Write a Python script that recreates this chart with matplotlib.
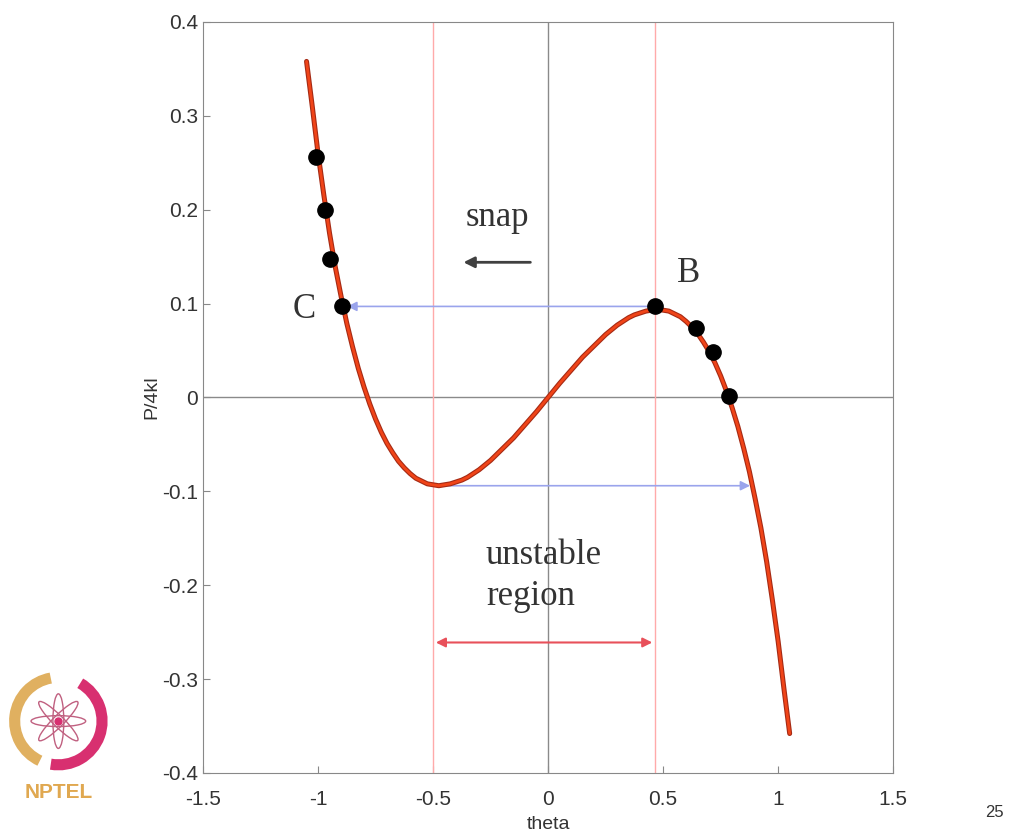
import numpy as np
import matplotlib.pyplot as plt
from matplotlib.patches import Arc, Ellipse

# curve (theta, P/4kl), right half; the left half is its mirror image
theta_r = [0.00, 0.05, 0.10, 0.15, 0.20, 0.25, 0.30, 0.35, 0.375, 0.40, 0.425, 0.45,
           0.475, 0.50, 0.525, 0.55, 0.575, 0.60, 0.625, 0.65, 0.675, 0.70, 0.725,
           0.75, 0.775, 0.80, 0.825, 0.85, 0.875, 0.90, 0.925, 0.95, 0.975, 1.00,
           1.025, 1.05]
load_r = [0.000, 0.015, 0.029, 0.043, 0.055, 0.067, 0.077, 0.085, 0.088, 0.090, 0.092, 0.093,
          0.094, 0.093, 0.092, 0.089, 0.086, 0.081, 0.075, 0.068, 0.059, 0.049, 0.037,
          0.023, 0.007, -0.011, -0.031, -0.054, -0.079, -0.108, -0.139, -0.175, -0.216, -0.260,
          -0.310, -0.358]
theta = [-t for t in theta_r[:0:-1]] + theta_r
load = [-p for p in load_r[:0:-1]] + load_r

# black dots
dot_x = [-1.01, -0.97, -0.95, -0.895, 0.465, 0.643, 0.717, 0.787]
dot_y = [0.256, 0.200, 0.148, 0.097, 0.097, 0.0735, 0.048, 0.002]

# markers of the unstable region and snap paths
region = [-0.5, 0.465]
snap_top = (0.465, -0.885, 0.097)     # from, to, level
snap_bottom = (-0.47, 0.89, -0.094)
region_arrow_y = -0.261

xticks = [-1.5, -1, -0.5, 0, 0.5, 1, 1.5]
yticks = [-0.4, -0.3, -0.2, -0.1, 0, 0.1, 0.2, 0.3, 0.4]

fig = plt.figure(figsize=(10.15, 8.39), dpi=100)
ax = fig.add_axes([0.2, 0.0787, 0.68, 0.8951])

ax.axhline(0, color='#8a8a8a', lw=1)
ax.axvline(0, color='#8a8a8a', lw=1)
for xv in region:
    ax.axvline(xv, color='#ffaaaa', lw=1)

ax.annotate('', xy=(snap_top[1], snap_top[2]), xytext=(snap_top[0], snap_top[2]),
            arrowprops=dict(arrowstyle='-|>', color='#9aa4ec', lw=1.2, mutation_scale=14))
ax.annotate('', xy=(snap_bottom[1], snap_bottom[2]), xytext=(snap_bottom[0], snap_bottom[2]),
            arrowprops=dict(arrowstyle='-|>', color='#9aa4ec', lw=1.2, mutation_scale=14))
ax.annotate('', xy=(region[0], region_arrow_y), xytext=(region[1], region_arrow_y),
            arrowprops=dict(arrowstyle='<|-|>', color='#e8505a', lw=1.5, mutation_scale=14))
ax.annotate('', xy=(-0.38, 0.144), xytext=(-0.065, 0.144),
            arrowprops=dict(arrowstyle='-|>', color='#404040', lw=2, mutation_scale=16))

ax.plot(theta, load, color='#a52a14', lw=3.6, solid_capstyle='round', zorder=3)
ax.plot(theta, load, color='#f04418', lw=2.0, solid_capstyle='round', zorder=4)
ax.plot(dot_x, dot_y, 'o', color='black', ms=11, zorder=5)

serif = dict(family=['Liberation Serif', 'DejaVu Serif'], color='#333333', fontsize=25)
ax.text(-0.22, 0.192, 'snap', ha='center', va='center', **serif)
ax.text(0.61, 0.132, 'B', ha='center', va='center', **serif)
ax.text(-1.06, 0.094, 'C', ha='center', va='center', **serif)
ax.text(-0.27, -0.19, 'unstable\nregion', ha='left', va='center', linespacing=1.3, **serif)

ax.set_xlim(-1.5, 1.5)
ax.set_ylim(-0.4, 0.4)
ax.set_xticks(xticks)
ax.set_xticklabels([f'{t:g}' for t in xticks])
ax.set_yticks(yticks)
ax.set_yticklabels([f'{t:g}' for t in yticks])
ax.tick_params(direction='in', length=5, color='#888888', labelsize=15, labelcolor='#333333')
ax.tick_params(axis='x', pad=12)
for lab in ax.get_xticklabels() + ax.get_yticklabels():
    lab.set_family(['Liberation Sans', 'DejaVu Sans'])
for s in ax.spines.values():
    s.set_color('#888888')
ax.set_xlabel('theta', fontsize=14, color='#333333', family=['Liberation Sans', 'DejaVu Sans'], labelpad=5)
ax.set_ylabel('P/4kl', fontsize=14, color='#333333', family=['Liberation Sans', 'DejaVu Sans'], labelpad=1)

# NPTEL logo, roughly
lg = fig.add_axes([0.0, 0.078, 0.115, 0.125])
lg.set_xlim(-1.2, 1.2)
lg.set_ylim(-1.2, 1.2)
lg.set_aspect('equal')
lg.axis('off')
lg.add_patch(Arc((0, 0), 2.0, 2.0, theta1=100, theta2=245, color='#e0b060', lw=8))
lg.add_patch(Arc((0, 0), 2.0, 2.0, theta1=-100, theta2=60, color='#d83070', lw=8))
for a in range(0, 180, 45):
    lg.add_patch(Ellipse((0, 0), 1.25, 0.25, angle=a, fill=False, color='#c06080', lw=1))
lg.plot(0, 0, 'o', color='#d83070', ms=5)
fig.text(0.058, 0.055, 'NPTEL', color='#e0a850', fontsize=15, fontweight='bold',
         ha='center', va='center', family=['Liberation Sans', 'DejaVu Sans'])
fig.text(0.98, 0.032, '25', color='#333333', fontsize=12, ha='center', va='center',
         family=['Liberation Sans', 'DejaVu Sans'])

fig.savefig('out.png', dpi=100)
